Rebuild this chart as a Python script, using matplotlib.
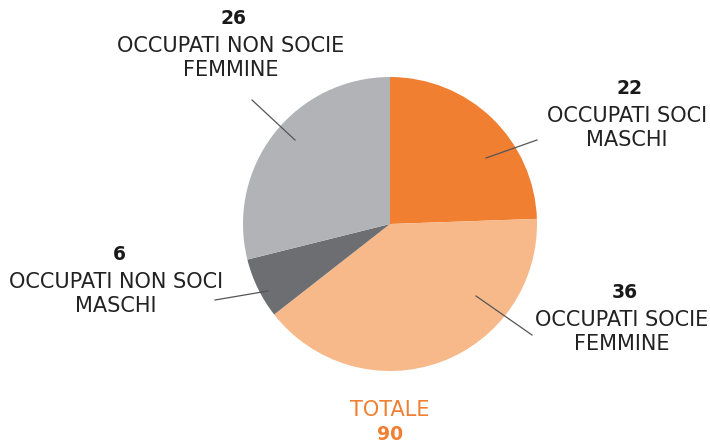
import matplotlib.pyplot as plt

# data
labels = ["OCCUPATI SOCI\nMASCHI", "OCCUPATI SOCIE\nFEMMINE",
          "OCCUPATI NON SOCI\nMASCHI", "OCCUPATI NON SOCIE\nFEMMINE"]
values = [22, 36, 6, 26]
colors = ["#F07F32", "#F8B98A", "#6D6E71", "#B1B3B6"]
total = sum(values)

W, H = 710, 443
fig = plt.figure(figsize=(W / 100, H / 100), dpi=100)
ax = fig.add_axes([0, 0, 1, 1])

def py(y):
    # convert pixel row (from top) to data y
    return H - y

cx, cy, r = 390, 224, 147
ax.pie(values, colors=colors, startangle=90, counterclock=False,
       center=(cx, py(cy)), radius=r, frame=True,
       wedgeprops=dict(linewidth=0))
ax.set_xlim(0, W)
ax.set_ylim(0, H)
ax.set_aspect("equal")
ax.axis("off")

# label placement: (text x, number y, line from, line to)
label_pos = [
    (627, 88, (486, 158), (537, 140)),
    (622, 292, (476, 296), (532, 335)),
    (116, 254, (268, 291), (215, 300)),
    (231, 18, (295, 140), (252, 100)),
]

font = "DejaVu Sans"
for (x, y, p0, p1), lab, v in zip(label_pos, labels, values):
    ax.plot([p0[0], p1[0]], [py(p0[1]), py(p1[1])], color="#555555", lw=0.9)
    ax.text(x + 3, py(y), str(v), ha="center", va="center", fontsize=13.5,
            fontweight="heavy", family=font, color="#1a1a1a")
    ax.text(x, py(y + 18), lab, ha="center", va="top", fontsize=15,
            family=font, color="#222222", linespacing=1.22)

ax.text(cx, py(410), "TOTALE", ha="center", va="center", fontsize=15,
        family=font, color="#F07F32")
ax.text(cx, py(435), str(total), ha="center", va="center", fontsize=13.5,
        fontweight="heavy", family=font, color="#F07F32")

fig.savefig("out.png", dpi=100)
